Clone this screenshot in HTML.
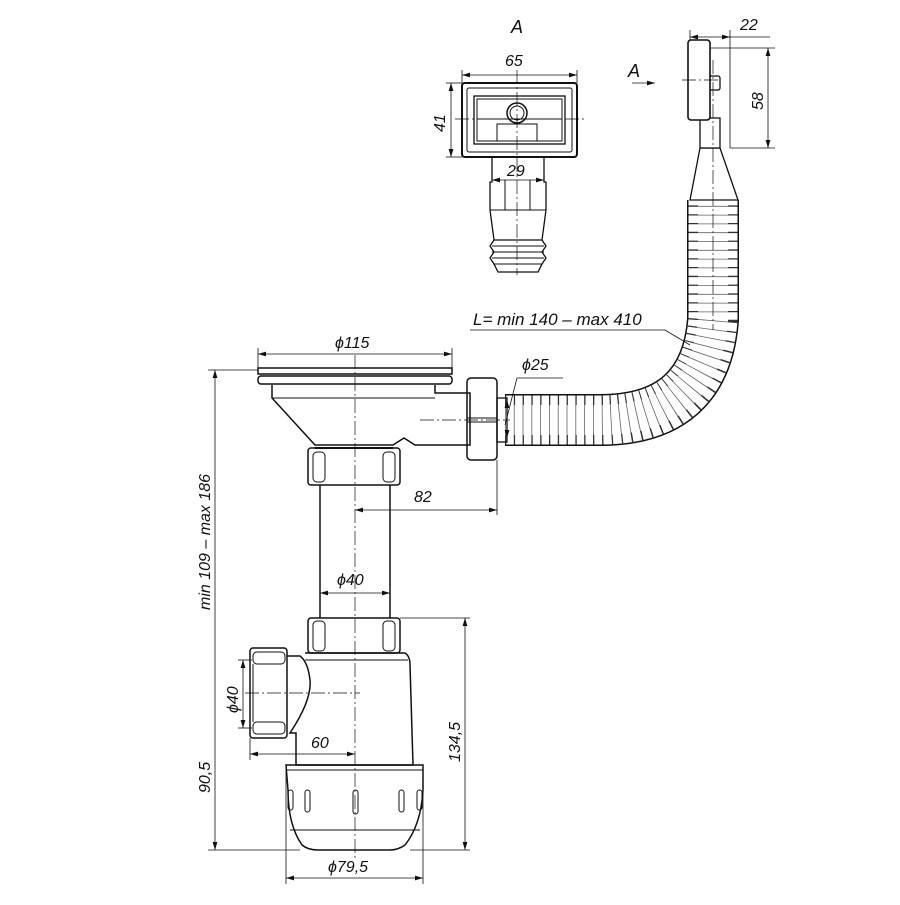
<!DOCTYPE html>
<html><head><meta charset="utf-8"><style>
html,body{margin:0;padding:0;background:#fff}
svg text{font-family:"Liberation Sans",sans-serif;font-style:italic;fill:#111}
</style></head><body>
<svg width="900" height="900" viewBox="0 0 900 900" xmlns="http://www.w3.org/2000/svg">
<defs>
<marker id="a" viewBox="0 0 10 6" refX="10" refY="3" markerWidth="10" markerHeight="6" orient="auto-start-reverse"><path d="M0 0L10 3L0 6z" fill="#111"/></marker>
</defs>
<g fill="none" stroke="#111" stroke-width="1">
<!-- hose -->
<path d="M505 420 L600 420 Q705 420 713 320 L713 200" stroke="#111" stroke-width="52"/>
<path d="M505 420 L600 420 Q705 420 713 320 L713 200" stroke="#fff" stroke-width="49"/>
<path d="M505 420 L600 420 Q705 420 713 320 L713 200" stroke="#333" stroke-width="49" stroke-dasharray="1.3 7.5"/>
<path d="M505 420 L600 420 Q705 420 713 320 L713 200" stroke="#fff" stroke-width="30"/>
<path d="M505 420 L600 420 Q705 420 713 320 L713 200" stroke="#666" stroke-width="30" stroke-dasharray="0.8 8.0"/>
<!-- hose top neck -->
<path d="M690 200 L700 148 L720 148 L738 200 Z" fill="#fff" stroke-width="1.3"/>
<rect x="700" y="118" width="20" height="30" fill="#fff" stroke-width="1.3"/>
<rect x="698" y="76" width="22" height="14" rx="2" fill="#fff" stroke-width="1.3"/>
<rect x="688" y="40" width="22" height="80" rx="3" fill="#fff" stroke-width="1.6"/>
<!-- strainer -->
<rect x="258" y="368" width="194" height="6" stroke-width="1.5"/>
<rect x="258" y="376" width="194" height="8" rx="3" stroke-width="1.5"/>
<path d="M272 385 L272 398 L315 445 L393 445 L404 438 L415 445 L470 445 L470 393 L435 393 L435 385" stroke-width="1.5"/>
<line x1="272" y1="398" x2="435" y2="398"/>
<line x1="315" y1="448" x2="393" y2="448" stroke-width="2"/>
<!-- outlet nut -->
<rect x="467" y="378" width="30" height="82" rx="4" stroke-width="1.5"/>
<line x1="467" y1="418" x2="497" y2="418"/><line x1="467" y1="422" x2="497" y2="422"/>
<rect x="497" y="398" width="10" height="44" stroke-width="1.3"/>
<!-- upper nut -->
<rect x="308" y="448" width="92" height="37" rx="3" stroke-width="1.5"/>
<rect x="313" y="452" width="12" height="30" rx="4"/><rect x="383" y="452" width="12" height="30" rx="4"/>
<!-- pipe -->
<line x1="320" y1="485" x2="320" y2="618" stroke-width="1.5"/><line x1="390" y1="485" x2="390" y2="618" stroke-width="1.5"/>
<!-- lower nut -->
<rect x="308" y="618" width="92" height="35" rx="3" stroke-width="1.5"/>
<rect x="313" y="621" width="12" height="30" rx="4"/><rect x="383" y="621" width="12" height="30" rx="4"/>
<!-- body -->
<path d="M305 653 L405 653 Q410 656 410 665 L413 765 L296 765 L296 733 L290 733 Q312 700 310 680 Q308 662 300 656 L287 656" stroke-width="1.5"/>
<line x1="305" y1="660" x2="408" y2="660"/>
<!-- side nut -->
<rect x="250" y="648" width="37" height="90" rx="3" stroke-width="1.5"/>
<rect x="253" y="652" width="32" height="12" rx="4"/><rect x="253" y="722" width="32" height="12" rx="4"/>
<line x1="253" y1="664" x2="253" y2="722"/>
<!-- cup -->
<path d="M286 765 L423 765 L423 790 Q421 825 405 845 Q398 850 390 850 L318 850 Q308 850 302 845 Q288 825 288 790 Z" stroke-width="1.5"/>
<line x1="286" y1="770" x2="423" y2="770"/>
<line x1="290" y1="830" x2="420" y2="830"/>
<rect x="288" y="790" width="5" height="20" rx="2.5"/><rect x="305" y="790" width="5" height="22" rx="2.5"/><rect x="353" y="790" width="5" height="24" rx="2.5"/><rect x="399" y="790" width="5" height="22" rx="2.5"/><rect x="417" y="790" width="5" height="20" rx="2.5"/>
<!-- view A -->
<rect x="462" y="83" width="115" height="74" rx="3" stroke-width="2"/>
<rect x="467" y="88" width="105" height="64" rx="2"/>
<rect x="474" y="96" width="91" height="48" stroke-width="1.3"/>
<rect x="477" y="99" width="85" height="42"/>
<line x1="477" y1="119" x2="562" y2="119"/>
<path d="M497 141 L497 124 L537 124 L537 141"/>
<circle cx="517" cy="113" r="10" stroke-width="1.5"/><circle cx="517" cy="113" r="7"/>
<path d="M492 157 L492 182 L490 182 L490 210 L494 240 L542 240 L546 210 L546 182 L544 182 L544 157" stroke-width="1.3"/>
<line x1="490" y1="210" x2="546" y2="210"/>
<path d="M494 240 L490 246 L494 252 L490 258 L494 264 L498 272 L538 272 L542 264 L546 258 L542 252 L546 246 L542 240"  stroke-width="1.3"/>
<line x1="492" y1="246" x2="544" y2="246"/><line x1="492" y1="252" x2="544" y2="252"/><line x1="492" y1="258" x2="544" y2="258"/><line x1="494" y1="264" x2="542" y2="264"/>
<line x1="505" y1="180" x2="505" y2="210"/><line x1="530" y1="180" x2="530" y2="210"/>
</g>
<!-- center lines -->
<g stroke="#111" stroke-width="0.7" stroke-dasharray="14 3 2 3" fill="none">
<line x1="355" y1="355" x2="355" y2="860"/>
<line x1="420" y1="420" x2="510" y2="420"/>
<line x1="245" y1="693" x2="360" y2="693"/>
<line x1="517" y1="70" x2="517" y2="275"/>
<line x1="455" y1="119" x2="585" y2="119"/>
<line x1="713" y1="60" x2="713" y2="330"/>
<line x1="682" y1="80" x2="720" y2="80"/>
</g>
<!-- dimensions -->
<g stroke="#111" stroke-width="0.8" fill="none">
<line x1="258" y1="354" x2="452" y2="354" marker-start="url(#a)" marker-end="url(#a)"/>
<line x1="258" y1="348" x2="258" y2="368"/><line x1="452" y1="348" x2="452" y2="368"/>
<line x1="215" y1="370" x2="215" y2="850" marker-start="url(#a)" marker-end="url(#a)"/>
<line x1="208" y1="370" x2="258" y2="370"/><line x1="208" y1="850" x2="300" y2="850"/>
<line x1="465" y1="618" x2="465" y2="850" marker-start="url(#a)" marker-end="url(#a)"/>
<line x1="400" y1="618" x2="470" y2="618"/><line x1="410" y1="850" x2="470" y2="850"/>
<line x1="286" y1="878" x2="423" y2="878" marker-start="url(#a)" marker-end="url(#a)"/>
<line x1="286" y1="765" x2="286" y2="884"/><line x1="423" y1="765" x2="423" y2="884"/>
<line x1="250" y1="754" x2="355" y2="754" marker-start="url(#a)" marker-end="url(#a)"/>
<line x1="250" y1="738" x2="250" y2="760"/>
<line x1="243" y1="660" x2="243" y2="728" marker-start="url(#a)" marker-end="url(#a)"/>
<line x1="238" y1="660" x2="252" y2="660"/><line x1="238" y1="728" x2="252" y2="728"/>
<line x1="355" y1="510" x2="497" y2="510" marker-start="url(#a)" marker-end="url(#a)"/>
<line x1="497" y1="460" x2="497" y2="515"/>
<line x1="320" y1="593" x2="390" y2="593" marker-start="url(#a)" marker-end="url(#a)"/>
<line x1="507" y1="400" x2="507" y2="438" marker-start="url(#a)" marker-end="url(#a)"/>
<polyline points="505,425 517,378 563,378"/>
<polyline points="470,330 665,330 690,345"/>
<line x1="462" y1="75" x2="577" y2="75" marker-start="url(#a)" marker-end="url(#a)"/>
<line x1="462" y1="70" x2="462" y2="83"/><line x1="577" y1="70" x2="577" y2="83"/>
<line x1="451" y1="83" x2="451" y2="157" marker-start="url(#a)" marker-end="url(#a)"/>
<line x1="446" y1="83" x2="462" y2="83"/><line x1="446" y1="157" x2="462" y2="157"/>
<line x1="492" y1="180" x2="544" y2="180" marker-start="url(#a)" marker-end="url(#a)"/>
<line x1="690" y1="37" x2="730" y2="37" marker-start="url(#a)" marker-end="url(#a)"/>
<line x1="730" y1="37" x2="770" y2="37"/><line x1="730" y1="30" x2="730" y2="148"/><line x1="690" y1="30" x2="690" y2="40"/>
<line x1="768" y1="48" x2="768" y2="148" marker-start="url(#a)" marker-end="url(#a)"/>
<line x1="710" y1="48" x2="775" y2="48"/><line x1="730" y1="148" x2="775" y2="148"/>
<line x1="632" y1="83" x2="655" y2="83" marker-end="url(#a)"/>
</g>
<g font-size="16">
<text x="335" y="348">ϕ115</text>
<text x="414" y="502">82</text>
<text x="337" y="585">ϕ40</text>
<text x="522" y="370">ϕ25</text>
<text x="473" y="325" font-size="17">L= min 140 – max 410</text>
<text x="311" y="748">60</text>
<text x="328" y="872">ϕ79,5</text>
<text x="505" y="66">65</text>
<text x="507" y="176">29</text>
<text x="740" y="30">22</text>
<text transform="translate(210,610) rotate(-90)">min 109 – max 186</text>
<text transform="translate(210,793) rotate(-90)">90,5</text>
<text transform="translate(460,762) rotate(-90)">134,5</text>
<text transform="translate(238,713) rotate(-90)">ϕ40</text>
<text transform="translate(445,132) rotate(-90)">41</text>
<text transform="translate(763,110) rotate(-90)">58</text>
<text x="511" y="33" font-style="normal" font-size="18">A</text>
<text x="628" y="77" font-style="normal" font-size="18">A</text>
</g>
</svg>
</body></html>
